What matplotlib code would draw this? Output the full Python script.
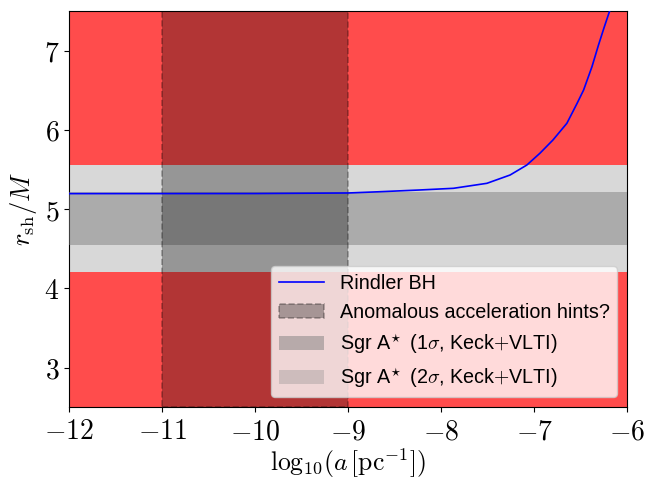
import numpy as np
import matplotlib
matplotlib.use("Agg")
import matplotlib.pyplot as plt
from matplotlib.ticker import FuncFormatter

plt.rcParams['mathtext.fontset'] = 'cm'

# Rindler BH shadow radius
log_a = [-12.0, -10.0, -9.0, -8.66, -8.23, -7.87, -7.51, -7.26, -7.08, -6.94,
         -6.80, -6.65, -6.54, -6.47, -6.38, -6.31, -6.25, -6.19]
r_sh = [5.196, 5.197, 5.204, 5.22, 5.242, 5.263, 5.326, 5.431, 5.557, 5.705,
        5.872, 6.083, 6.335, 6.503, 6.797, 7.07, 7.29, 7.5]

# Sgr A* constraints (Keck+VLTI)
sig1 = [4.55, 5.22]
sig2 = [4.21, 5.56]
# anomalous acceleration window
anom = [-11.0, -9.0]

xlim = [-12, -6]
ylim = [2.5, 7.5]

fig = plt.figure(figsize=(6.57, 4.79), dpi=100)
ax = fig.add_axes([0.1055, 0.1497, 0.8493, 0.8273])

# excluded regions
ax.axhspan(ylim[0], sig2[0], color='red', alpha=0.7, lw=0)
ax.axhspan(sig2[1], ylim[1], color='red', alpha=0.7, lw=0)

ax.plot(log_a, r_sh, c='blue', lw=1.2, label='Rindler BH', zorder=5)

ax.axvspan(anom[0], anom[1], facecolor=(0, 0, 0, 0.3), edgecolor=(0, 0, 0, 0.3),
           ls='--', lw=1.2, label='Anomalous acceleration hints?', zorder=4)
ax.axhspan(sig1[0], sig1[1], color='gray', alpha=0.5, lw=0,
           label=r'Sgr A$^{\!\star}$ (1$\sigma$, Keck$+$VLTI)', zorder=3)
ax.axhspan(sig2[0], sig2[1], color='gray', alpha=0.3, lw=0,
           label=r'Sgr A$^{\!\star}$ (2$\sigma$, Keck$+$VLTI)', zorder=2)

ax.set_xlim(xlim)
ax.set_ylim(ylim)
ax.set_xticks([-12, -11, -10, -9, -8, -7, -6])
ax.set_yticks([3, 4, 5, 6, 7])
fmt = FuncFormatter(lambda v, p: r'$%d$' % v)
ax.xaxis.set_major_formatter(fmt)
ax.yaxis.set_major_formatter(fmt)
ax.tick_params(labelsize=20)
ax.set_xlabel(r'$\mathrm{log}_{10}(a\,[\mathrm{pc}^{-1}])$', fontsize=18.5, labelpad=1)
ax.set_ylabel(r'$r_{\rm sh}/M$', fontsize=19)

ax.legend(loc='lower right', handlelength=2.3,
          prop={'family': 'Liberation Sans', 'size': 14.2})

fig.savefig("out.png", dpi=100)
